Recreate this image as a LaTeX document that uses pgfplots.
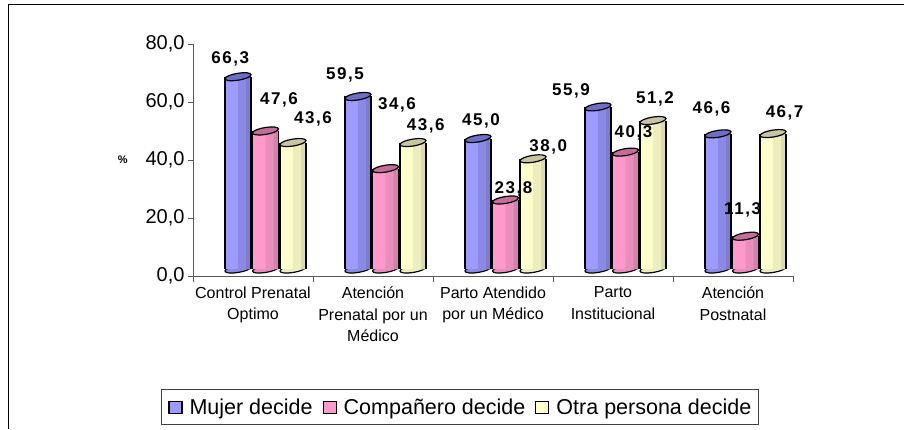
\documentclass[border=0pt]{standalone}
\usepackage{pgfplots}
\pgfplotsset{compat=1.18}
\usepackage{pgfplotstable}
\usepackage{fontspec}
\setmainfont{Liberation Sans}
\newfontfamily\valfont[LetterSpace=9]{Liberation Sans}

\definecolor{bluL}{HTML}{9C9CFF}
\definecolor{bluM}{HTML}{8A8AE6}
\definecolor{bluR}{HTML}{7C7CD2}
\definecolor{bluT}{HTML}{6E6EC4}
\definecolor{pnkL}{HTML}{FF99CC}
\definecolor{pnkM}{HTML}{E98DBC}
\definecolor{pnkR}{HTML}{D680AC}
\definecolor{pnkT}{HTML}{C46C9A}
\definecolor{yelL}{HTML}{FFFFCC}
\definecolor{yelM}{HTML}{EEEDBE}
\definecolor{yelR}{HTML}{DCDAAE}
\definecolor{yelT}{HTML}{C8C6A0}

\pgfdeclareplotmark{cap}{%
  \pgfpathellipse{\pgfpointorigin}{\pgfqpoint{13pt}{2pt}}{\pgfqpoint{0pt}{3.5pt}}%
  \pgfusepathqfillstroke}

\pgfplotstableread{
x z mujer comp otra
0 0 66.3 47.6 43.6
1 0 59.5 34.6 43.6
2 0 45.0 23.8 38.0
3 0 55.9 40.3 51.2
4 0 46.6 11.3 46.7
}\data

\pgfplotstableread{
x y lab
-0.19 74.7 66,3
0.217 60.9 47,6
0.50 54.1 43,6
0.767 69.3 59,5
1.20 58.9 34,6
1.44 51.7 43,6
1.90 53.6 45,0
2.17 30.0 23,8
2.46 44.5 38,0
2.65 63.8 55,9
3.17 49.2 40,3
3.35 61.0 51,2
3.82 57.5 46,6
4.08 22.8 11,3
4.43 56.1 46,7
}\labels

% #1 column, #2 shift (number, pt), #3 L, #4 M, #5 R, #6 top
\newcommand{\cyl}[6]{%
  \addplot[forget plot, only marks, mark=cap, mark options={fill=#4, draw=black, line width=1.2pt}, xshift={(#2)*1pt}, yshift=7pt] table[x=x,y=z]{\data};
  \addplot[forget plot, ybar, bar width=26pt, bar shift={(#2)*1pt}, draw=none, fill=#3, yshift=7pt] table[x=x,y=#1]{\data};
  \addplot[forget plot, ybar, bar width=13pt, bar shift={(#2+6.5)*1pt}, draw=none, fill=#4, yshift=7pt] table[x=x,y=#1]{\data};
  \addplot[forget plot, ybar, bar width=5pt, bar shift={(#2+10.5)*1pt}, draw=none, fill=#5, yshift=7pt] table[x=x,y=#1]{\data};
  \addplot[forget plot, ycomb, draw=black, line width=1.3pt, mark=none, xshift={(#2-13)*1pt}, yshift=7pt] table[x=x,y=#1]{\data};
  \addplot[forget plot, ycomb, draw=black, line width=1.3pt, mark=none, xshift={(#2+13)*1pt}, yshift=7pt] table[x=x,y=#1]{\data};
  \addplot[forget plot, only marks, mark=cap, mark options={fill=#6, draw=black, line width=1.2pt}, xshift={(#2)*1pt}, yshift=7pt] table[x=x,y=#1]{\data};
}

\pgfplotsset{legsq/.style={legend image code/.code={\draw[##1] (0pt,-6.5pt) rectangle (13pt,5.5pt);}}}

\begin{document}
\begin{tikzpicture}
\useasboundingbox (0,0) rectangle (904pt,429pt);
\draw[line width=1.5pt] (8.5pt,0pt) -- (8.5pt,424.5pt) -- (904pt,424.5pt);
\begin{axis}[
  at={(193pt,153pt)}, anchor=south west,
  scale only axis, width=600pt, height=232pt,
  xmin=-0.5, xmax=4.5, ymin=0, ymax=80,
  clip=false, clip marker paths=true,
  axis x line*=bottom, axis y line*=left,
  axis line style={-, draw=black!65, line width=1pt},
  ytick={0,20,...,80},
  yticklabel style={font=\fontsize{20}{20}\selectfont, black},
  /pgf/number format/.cd, fixed, fixed zerofill, precision=1, use comma, assume math mode=true,
  /pgfplots/.cd,
  tick align=outside,
  major tick length=5pt,
  minor tick length=6pt,
  ytick style={draw=black!65, line width=1pt},
  xtick={0,1,2,3,4},
  major x tick style={draw=none},
  minor xtick={-0.5,0.5,1.5,2.5,3.5,4.5},
  minor x tick style={draw=black!65, line width=1pt},
  xticklabels={{Control Prenatal\\Optimo},{Atención\\Prenatal por un\\Médico},{Parto Atendido\\por un Médico},{Parto\\Institucional},{Atención\\Postnatal}},
  xticklabel style={align=center, font=\fontsize{16}{21.7}\selectfont, inner xsep=0pt, yshift=-2pt},
  ylabel={\%},
  ylabel style={rotate=-90, at={(axis description cs:-0.117,0.5)}, anchor=center, font=\bfseries\fontsize{11}{11}\selectfont},
  legend columns=3,
  legend style={at={(axis description cs:-0.0533,-0.642)}, anchor=south west,
    draw=black!75, line width=0.8pt, inner xsep=7pt, inner ysep=9pt,
    font=\fontsize{21.5}{22}\selectfont,
    nodes={inner sep=0pt},
    /tikz/every odd column/.append style={column sep=7pt},
    /tikz/every even column/.append style={column sep=10pt}},
]
\cyl{mujer}{-15}{bluL}{bluM}{bluR}{bluT}
\cyl{comp}{12.5}{pnkL}{pnkM}{pnkR}{pnkT}
\cyl{otra}{40}{yelL}{yelM}{yelR}{yelT}

\addplot[forget plot, only marks, mark=none, nodes near coords, point meta=explicit symbolic,
  nodes near coords align={center},
  every node near coord/.append style={anchor=center, font=\valfont\bfseries\fontsize{17}{17}\selectfont}]
  table[x=x,y=y,meta=lab]{\labels};

\addlegendimage{legsq, fill=bluL, draw=black, line width=1.1pt}
\addlegendentry{Mujer decide}
\addlegendimage{legsq, fill=pnkL, draw=black, line width=1.1pt}
\addlegendentry{Compañero decide}
\addlegendimage{legsq, fill=yelL, draw=black, line width=1.1pt}
\addlegendentry{Otra persona decide}
\end{axis}
\end{tikzpicture}
\end{document}
